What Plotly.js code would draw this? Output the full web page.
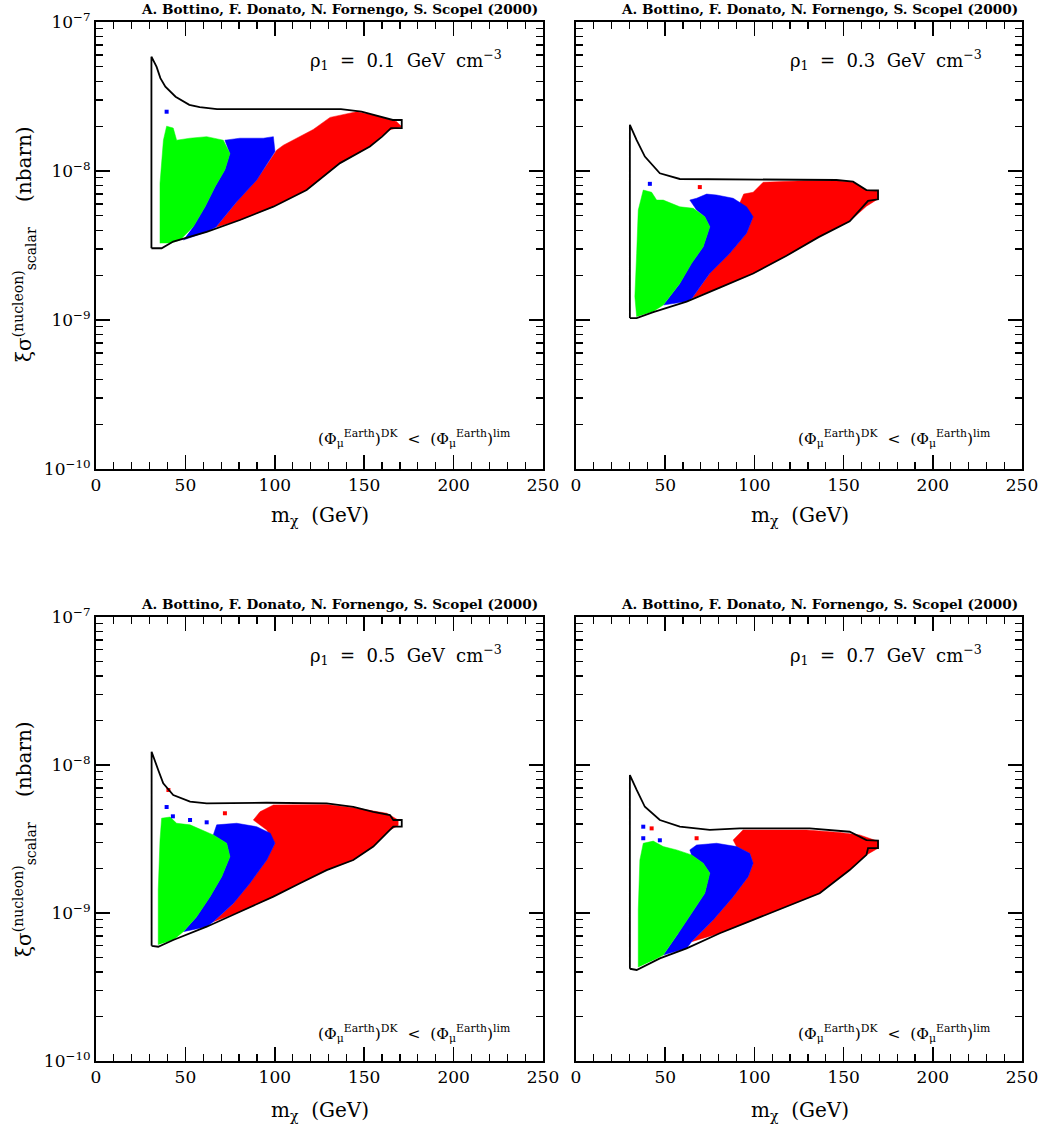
<!DOCTYPE html>
<html><head><meta charset="utf-8">
<script src="https://cdn.plot.ly/plotly-3.0.1.min.js"></script>
<style>html,body{margin:0;padding:0;background:#fff}#chart{width:1038px;height:1128px}</style>
</head><body><div id="chart"></div>
<script>
// ---------- tick labels / text ----------
const xTickVals = [0, 50, 100, 150, 200, 250];
const yTickVals = [1e-10, 1e-9, 1e-8, 1e-7];
const yTickText = ['10<sup>\u221210</sup>', '10<sup>\u22129</sup>', '10<sup>\u22128</sup>', '10<sup>\u22127</sup>'];
const rhoValues = ['0.1', '0.3', '0.5', '0.7'];
const authorText = 'A. Bottino, F. Donato, N. Fornengo, S. Scopel (2000)';

// ---------- panel A : rho = 0.1 ----------
const outlineA_x = [31, 31, 33.9, 36, 38.8, 44.5, 52.2, 58, 67.7, 137, 148.5, 162, 166, 171, 171, 165, 160, 153.2, 136.5, 117.8, 99.2, 80.5, 61.9, 43.2, 36.7, 31];
const outlineA_y = [3.03e-9, 5.85e-8, 5.0e-8, 4.2e-8, 3.68e-8, 3.15e-8, 2.78e-8, 2.68e-8, 2.6e-8, 2.6e-8, 2.5e-8, 2.26e-8, 2.2e-8, 2.2e-8, 1.94e-8, 1.94e-8, 1.7e-8, 1.46e-8, 1.13e-8, 7.45e-9, 5.76e-9, 4.69e-9, 3.91e-9, 3.36e-9, 3.03e-9, 3.03e-9];
const greenA_x = [35.8, 35.8, 37.7, 39.5, 43.2, 45.1, 52.6, 61.9, 71.2, 74.9, 72.1, 66.6, 61, 54.4, 47, 41.4];
const greenA_y = [3.27e-9, 8.26e-9, 1.61e-8, 2.0e-8, 1.94e-8, 1.61e-8, 1.66e-8, 1.7e-8, 1.61e-8, 1.31e-8, 1.02e-8, 7.85e-9, 5.75e-9, 4.22e-9, 3.44e-9, 3.27e-9];
const blueA_x = [48.8, 61.9, 67, 78.7, 89.9, 100.1, 99.2, 93.6, 80.5, 72.1, 74.9, 72.1, 66.6, 61, 54.4];
const blueA_y = [3.44e-9, 3.91e-9, 4.2e-9, 6.22e-9, 8.7e-9, 1.35e-8, 1.7e-8, 1.66e-8, 1.66e-8, 1.61e-8, 1.31e-8, 1.02e-8, 7.85e-9, 5.75e-9, 4.22e-9];
const redA_x = [67, 80.5, 99.2, 117.8, 136.5, 153.2, 163.5, 171, 168, 155, 145.8, 130.9, 121.5, 104.8, 101, 89.9, 78.7];
const redA_y = [4.2e-9, 4.69e-9, 5.76e-9, 7.45e-9, 1.13e-8, 1.46e-8, 1.88e-8, 1.98e-8, 2.15e-8, 2.38e-8, 2.5e-8, 2.29e-8, 1.9e-8, 1.49e-8, 1.38e-8, 8.7e-9, 6.22e-9];
const dotsA_x = [39.5];
const dotsA_y = [2.5e-8];
const dotsA_c = ['#0000ff'];

// ---------- panel B : rho = 0.3 ----------
const outlineB_x = [30.2, 30.2, 34, 38.6, 47, 58.2, 146, 155.3, 162.8, 169.3, 169.3, 163.7, 153.4, 136, 118, 99.3, 80.6, 62, 43.3, 34, 30.2];
const outlineB_y = [1.03e-9, 2.04e-8, 1.61e-8, 1.25e-8, 9.66e-9, 8.84e-9, 8.7e-9, 8.48e-9, 7.45e-9, 7.4e-9, 6.46e-9, 6.3e-9, 4.6e-9, 3.6e-9, 2.7e-9, 2.05e-9, 1.65e-9, 1.33e-9, 1.13e-9, 1.03e-9, 1.03e-9];
const greenB_x = [34, 33, 34, 34.9, 37.7, 42.4, 45.2, 48.9, 58.2, 65.7, 72.2, 75, 71.3, 64.8, 58.2, 48.9, 43.3];
const greenB_y = [1.05e-9, 1.44e-9, 2.8e-9, 5.47e-9, 7.45e-9, 7.2e-9, 6.38e-9, 6.38e-9, 5.75e-9, 5.62e-9, 4.93e-9, 4.22e-9, 3.1e-9, 2.4e-9, 1.76e-9, 1.26e-9, 1.14e-9];
const blueB_x = [48.9, 62, 65, 75, 86.2, 95.6, 99.3, 95.6, 88.1, 78.8, 73.2, 67.6, 63.8, 67.6, 72.2, 75, 71.3, 64.8, 58.2];
const blueB_y = [1.26e-9, 1.33e-9, 1.4e-9, 2.06e-9, 2.8e-9, 3.82e-9, 4.93e-9, 5.75e-9, 6.56e-9, 6.9e-9, 7.0e-9, 6.56e-9, 6.38e-9, 5.47e-9, 4.93e-9, 4.22e-9, 3.1e-9, 2.4e-9, 1.76e-9];
const redB_x = [65, 80.6, 99.3, 118, 136, 153.4, 162.8, 169.3, 169.3, 162.8, 155.3, 146, 128.2, 104.9, 99.3, 94, 91.8, 99.3, 95.6, 86.2, 75];
const redB_y = [1.4e-9, 1.65e-9, 2.05e-9, 2.7e-9, 3.6e-9, 4.6e-9, 5.8e-9, 6.5e-9, 7.3e-9, 7.45e-9, 8.4e-9, 8.6e-9, 8.6e-9, 8.4e-9, 7.2e-9, 7.0e-9, 6.1e-9, 4.93e-9, 3.82e-9, 2.8e-9, 2.06e-9];
const dotsB_x = [41.4, 69.4];
const dotsB_y = [8.2e-9, 7.8e-9];
const dotsB_c = ['#0000ff', '#ff0000'];

// ---------- panel C : rho = 0.5 ----------
const outlineC_x = [31.1, 31.1, 34.8, 37.6, 43.2, 52.6, 61.9, 95.5, 129, 143.9, 155.1, 164.4, 166.3, 171, 171, 166.3, 164.4, 155.1, 143.9, 129, 114.1, 99.2, 80.5, 61.9, 43.2, 34.8, 31.1];
const outlineC_y = [6.0e-10, 1.23e-8, 9.25e-9, 7.52e-9, 6.27e-9, 5.65e-9, 5.5e-9, 5.56e-9, 5.5e-9, 5.22e-9, 4.83e-9, 4.59e-9, 4.25e-9, 4.25e-9, 3.83e-9, 3.83e-9, 3.64e-9, 2.81e-9, 2.28e-9, 1.95e-9, 1.59e-9, 1.29e-9, 1.02e-9, 8.08e-10, 6.57e-10, 5.92e-10, 6.0e-10];
const greenC_x = [34.8, 34.8, 35.8, 36.7, 41.4, 45.1, 52.6, 59.1, 65.6, 73.1, 74.9, 70.3, 63.8, 56.3, 48.8, 43.2];
const greenC_y = [6.1e-10, 1.43e-9, 3.11e-9, 4.37e-9, 4.45e-9, 4.04e-9, 3.94e-9, 3.64e-9, 3.37e-9, 2.96e-9, 2.4e-9, 1.76e-9, 1.29e-9, 9.44e-10, 7.48e-10, 6.57e-10];
const blueC_x = [48.8, 61.9, 65.6, 76.8, 86.1, 95.5, 100.1, 97.5, 89.9, 78.7, 67.5, 65.6, 73.1, 74.9, 70.3, 63.8, 56.3];
const blueC_y = [7.48e-10, 8.08e-10, 8.73e-10, 1.16e-9, 1.59e-9, 2.28e-9, 2.96e-9, 3.46e-9, 3.83e-9, 4.04e-9, 3.94e-9, 3.37e-9, 2.96e-9, 2.4e-9, 1.76e-9, 1.29e-9, 9.44e-10];
const redC_x = [65.6, 80.5, 99.2, 114.1, 129, 143.9, 155.1, 164.4, 169, 169, 162.6, 143.9, 129, 99.2, 91.7, 88, 95.5, 100.1, 95.5, 86.1, 76.8];
const redC_y = [8.73e-10, 1.02e-9, 1.29e-9, 1.59e-9, 1.95e-9, 2.28e-9, 2.81e-9, 3.64e-9, 3.9e-9, 4.25e-9, 4.72e-9, 5.15e-9, 5.4e-9, 5.37e-9, 4.83e-9, 4.25e-9, 3.64e-9, 2.96e-9, 2.28e-9, 1.59e-9, 1.16e-9];
const dotsC_x = [39.5, 43, 40.5, 52.6, 61.9, 72.1];
const dotsC_y = [5.2e-9, 4.5e-9, 6.78e-9, 4.25e-9, 4.1e-9, 4.72e-9];
const dotsC_c = ['#0000ff', '#0000ff', '#ff0000', '#0000ff', '#0000ff', '#ff0000'];

// ---------- panel D : rho = 0.7 ----------
const outlineD_x = [30.2, 30.2, 34, 38.6, 47, 58.2, 75, 91.8, 131, 153.4, 162.8, 169.3, 169.3, 163.7, 162.8, 153.4, 136.6, 118, 99.3, 80.6, 62, 47, 34, 30.2];
const outlineD_y = [4.2e-10, 8.55e-9, 6.78e-9, 5.22e-9, 4.25e-9, 3.83e-9, 3.64e-9, 3.73e-9, 3.73e-9, 3.54e-9, 3.11e-9, 3.08e-9, 2.74e-9, 2.74e-9, 2.47e-9, 1.95e-9, 1.36e-9, 1.1e-9, 8.98e-10, 7.3e-10, 5.77e-10, 4.94e-10, 4.12e-10, 4.2e-10];
const greenD_x = [34.9, 34.9, 35.8, 37.7, 43.3, 48.9, 56.4, 64.8, 71.3, 75, 72.2, 64.8, 57.3, 48.9, 43.3];
const greenD_y = [4.3e-10, 1.05e-9, 2.28e-9, 2.96e-9, 3.06e-9, 2.81e-9, 2.67e-9, 2.47e-9, 2.17e-9, 1.86e-9, 1.36e-9, 9.95e-10, 7.3e-10, 5.2e-10, 4.8e-10];
const blueD_x = [48.9, 62, 64.8, 76.9, 88.1, 96.5, 99.3, 97.4, 90, 78.8, 67.6, 63.8, 64.8, 71.3, 75, 72.2, 64.8, 57.3];
const blueD_y = [5.2e-10, 5.77e-10, 6.4e-10, 8.98e-10, 1.29e-9, 1.76e-9, 2.17e-9, 2.53e-9, 2.81e-9, 2.96e-9, 2.88e-9, 2.67e-9, 2.47e-9, 2.17e-9, 1.86e-9, 1.36e-9, 9.95e-10, 7.3e-10];
const redD_x = [64.8, 80.6, 99.3, 118, 136.6, 153.4, 162.8, 169.3, 169.3, 159, 147.8, 129.2, 93.6, 88.1, 90, 97.4, 99.3, 96.5, 88.1, 76.9];
const redD_y = [6.4e-10, 7.3e-10, 8.98e-10, 1.1e-9, 1.36e-9, 1.95e-9, 2.47e-9, 2.74e-9, 3.05e-9, 3.37e-9, 3.5e-9, 3.64e-9, 3.64e-9, 3.11e-9, 2.81e-9, 2.53e-9, 2.17e-9, 1.76e-9, 1.29e-9, 8.98e-10];
const dotsD_x = [37.7, 37.7, 42.4, 47, 67.6];
const dotsD_y = [3.83e-9, 3.2e-9, 3.73e-9, 3.1e-9, 3.2e-9];
const dotsD_c = ['#0000ff', '#0000ff', '#ff0000', '#0000ff', '#ff0000'];

// ---------- build ----------
const panels = [
  {ax: '',  outX: outlineA_x, outY: outlineA_y, gX: greenA_x, gY: greenA_y, bX: blueA_x, bY: blueA_y, rX: redA_x, rY: redA_y, dX: dotsA_x, dY: dotsA_y, dC: dotsA_c},
  {ax: '2', outX: outlineB_x, outY: outlineB_y, gX: greenB_x, gY: greenB_y, bX: blueB_x, bY: blueB_y, rX: redB_x, rY: redB_y, dX: dotsB_x, dY: dotsB_y, dC: dotsB_c},
  {ax: '3', outX: outlineC_x, outY: outlineC_y, gX: greenC_x, gY: greenC_y, bX: blueC_x, bY: blueC_y, rX: redC_x, rY: redC_y, dX: dotsC_x, dY: dotsC_y, dC: dotsC_c},
  {ax: '4', outX: outlineD_x, outY: outlineD_y, gX: greenD_x, gY: greenD_y, bX: blueD_x, bY: blueD_y, rX: redD_x, rY: redD_y, dX: dotsD_x, dY: dotsD_y, dC: dotsD_c}
];

const traces = [];
panels.forEach(p => {
  const xa = 'x' + p.ax, ya = 'y' + p.ax;
  const poly = (x, y, c) => ({type: 'scatter', mode: 'lines', x: x, y: y, xaxis: xa, yaxis: ya,
    fill: 'toself', fillcolor: c, line: {width: 0.5, color: c}, hoverinfo: 'skip', showlegend: false});
  traces.push(poly(p.rX, p.rY, '#ff0000'));
  traces.push(poly(p.bX, p.bY, '#0000ff'));
  traces.push(poly(p.gX, p.gY, '#00ff00'));
  traces.push({type: 'scatter', mode: 'markers', x: p.dX, y: p.dY, xaxis: xa, yaxis: ya,
    marker: {symbol: 'square', size: 4, color: p.dC}, hoverinfo: 'skip', showlegend: false});
  traces.push({type: 'scatter', mode: 'lines', x: p.outX, y: p.outY, xaxis: xa, yaxis: ya,
    line: {color: '#000000', width: 1.8}, hoverinfo: 'skip', showlegend: false});
});

const W = 1038, H = 1128;
const SERIF = 'DejaVu Serif, serif';
const tickFont = {family: SERIF, size: 17, color: '#000'};
function xAxis(dom, anchor) {
  return {domain: dom, anchor: anchor, range: [0, 250], showline: true, linewidth: 2, linecolor: '#000',
    mirror: 'allticks', ticks: 'inside', ticklen: 14, tickwidth: 1.5, tickcolor: '#000',
    tickmode: 'array', tickvals: xTickVals, ticktext: xTickVals.map(String), tickfont: tickFont,
    ticklabeloverflow: 'allow',
    minor: {ticks: 'inside', ticklen: 7, tickwidth: 1.2, tickcolor: '#000', dtick: 10, tick0: 0, showgrid: false},
    showgrid: false, zeroline: false, fixedrange: true};
}
function yAxis(dom, anchor, labels) {
  return {domain: dom, anchor: anchor, type: 'log', range: [-10, -7], showline: true, linewidth: 2, linecolor: '#000',
    mirror: 'allticks', ticks: 'inside', ticklen: 14, tickwidth: 1.5, tickcolor: '#000',
    tickmode: 'array', tickvals: yTickVals, ticktext: yTickText, showticklabels: labels, tickfont: tickFont,
    ticklabeloverflow: 'allow',
    minor: {ticks: 'inside', ticklen: 7, tickwidth: 1.2, tickcolor: '#000', dtick: 'D1', showgrid: false},
    showgrid: false, zeroline: false, fixedrange: true};
}
const xL = [96 / W, 543 / W], xR = [576 / W, 1022 / W];
const yT = [1 - 469 / H, 1 - 22 / H], yB = [1 - 1061 / H, 1 - 617 / H];

const annotations = [];
function ann(text, px, py, size, extra) {
  annotations.push(Object.assign({text: text, x: px / W, y: 1 - py / H, xref: 'paper', yref: 'paper',
    xanchor: 'center', yanchor: 'middle', showarrow: false,
    font: {family: SERIF, size: size, color: '#000'}}, extra || {}));
}
const panelPos = [
  {cx: 0, cy: 0, x0: 96, y0: 22},
  {cx: 1, cy: 0, x0: 576, y0: 22},
  {cx: 0, cy: 1, x0: 96, y0: 617},
  {cx: 1, cy: 1, x0: 576, y0: 617}
];
panelPos.forEach((pp, i) => {
  ann('<b>' + authorText + '</b>', pp.x0 + 243, pp.y0 - 13, 13.6);
  ann('\u03c1<sub>1</sub>  =  ' + rhoValues[i] + '  GeV  cm<sup>\u22123</sup>', pp.x0 + 310, pp.y0 + 38, 18);
  ann('(\u03a6<sub>\u03bc</sub><sup>Earth</sup>)<sup>DK</sup>  <  (\u03a6<sub>\u03bc</sub><sup>Earth</sup>)<sup>lim</sup>', pp.x0 + 318, pp.y0 + 416, 15.5);
  ann('m<sub>\u03c7</sub>  (GeV)', pp.x0 + 224, pp.y0 + 494, 20);
  if (pp.cx === 0) {
    ann('\u03be\u03c3<sup>(nucleon)</sup><sub>scalar</sub>    (nbarn)', 24, pp.y0 + 222, 20, {textangle: -90});
  }
});

const layout = {
  width: W, height: H, margin: {l: 0, r: 0, t: 0, b: 0},
  paper_bgcolor: '#fff', plot_bgcolor: '#fff', showlegend: false,
  xaxis: xAxis(xL, 'y'), yaxis: yAxis(yT, 'x', true),
  xaxis2: xAxis(xR, 'y2'), yaxis2: yAxis(yT, 'x2', false),
  xaxis3: xAxis(xL, 'y3'), yaxis3: yAxis(yB, 'x3', true),
  xaxis4: xAxis(xR, 'y4'), yaxis4: yAxis(yB, 'x4', false),
  annotations: annotations
};
Plotly.newPlot('chart', traces, layout, {displayModeBar: false, staticPlot: true});
</script></body></html>
